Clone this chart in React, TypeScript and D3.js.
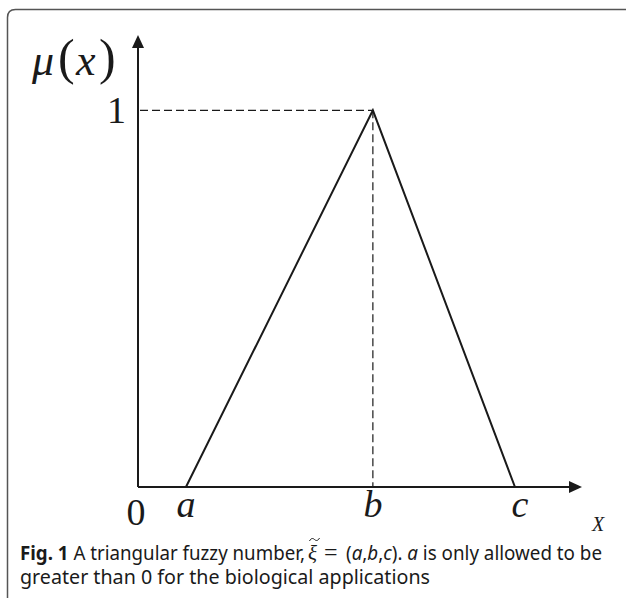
import React from "react";
import * as d3 from "d3";

// Triangular fuzzy number parameters (x-domain units) and membership values
const pointNames = ["a", "b", "c"];
const pointX = [1.08, 5.29, 8.49];
const pointMu = [0, 1, 0];
const xMax = 10;
const yMax = 1.2;
const yTickLabels = ["1"];
const yTickValues = [1];

const W = 626;
const H = 598;

export default function App() {
  const x = d3.scaleLinear().domain([0, xMax]).range([138, 582]);
  const y = d3.scaleLinear().domain([0, yMax]).range([487, 35]);
  const line = d3
    .line<number>()
    .x((_, i) => x(pointX[i]))
    .y((d) => y(d));
  const peakX = x(pointX[1]);
  const peakY = y(pointMu[1]);
  const serif = "'Liberation Serif', 'Times New Roman', serif";
  const sans = "'Noto Sans', 'Open Sans', sans-serif";
  const ink = "#1a1a1a";
  const capFs = 19;

  return (
    <svg
      width={W}
      height={H}
      viewBox={`0 0 ${W} ${H}`}
      style={{ position: "absolute", left: 0, top: 0, background: "#fff" }}
    >
      {/* frame */}
      <path
        d={`M7.5,${H} L7.5,17.5 Q7.5,9.5 15.5,9.5 L${W},9.5`}
        fill="none"
        stroke="#555"
        strokeWidth={1.5}
      />
      {/* dashed guides */}
      <line
        x1={x(0) + 2}
        x2={peakX}
        y1={peakY}
        y2={peakY}
        stroke={ink}
        strokeWidth={1.2}
        strokeDasharray="8,4"
      />
      <line
        x1={peakX}
        x2={peakX}
        y1={peakY}
        y2={y(0)}
        stroke={ink}
        strokeWidth={1.2}
        strokeDasharray="8,4"
      />
      {/* axes */}
      <line x1={x(0)} x2={x(xMax) - 10} y1={y(0)} y2={y(0)} stroke={ink} strokeWidth={2} />
      <line x1={x(0)} x2={x(0)} y1={y(0)} y2={y(yMax) + 10} stroke={ink} strokeWidth={2} />
      <path
        d={`M${x(xMax)},${y(0)} L${x(xMax) - 13},${y(0) - 6} L${x(xMax) - 13},${y(0) + 6} Z`}
        fill={ink}
      />
      <path
        d={`M${x(0)},${y(yMax)} L${x(0) - 6},${y(yMax) + 13} L${x(0) + 6},${y(yMax) + 13} Z`}
        fill={ink}
      />
      {/* triangle */}
      <path d={line(pointMu) || ""} fill="none" stroke={ink} strokeWidth={2} strokeLinejoin="miter" />
      {/* y-axis title μ(x) */}
      <g fontFamily={serif} fill={ink}>
        <text x={32} y={75} fontSize={44} fontStyle="italic">μ</text>
        <text x={58} y={74} fontSize={50}>(</text>
        <text x={76} y={75} fontSize={44} fontStyle="italic">x</text>
        <text x={99} y={74} fontSize={50}>)</text>
      </g>
      {yTickValues.map((v, i) => (
        <text
          key={i}
          x={x(0) - 12}
          y={y(v) + 13}
          textAnchor="end"
          fontFamily={serif}
          fontSize={38}
          fill={ink}
        >
          {yTickLabels[i]}
        </text>
      ))}
      <text x={x(0) - 2} y={y(0) + 38} textAnchor="middle" fontFamily={serif} fontSize={38} fill={ink}>
        0
      </text>
      {pointNames.map((n, i) => (
        <text
          key={n}
          x={x(pointX[i]) + (i === 2 ? 5 : 0)}
          y={y(0) + 30}
          textAnchor="middle"
          fontFamily={serif}
          fontStyle="italic"
          fontSize={38}
          fill={ink}
        >
          {n}
        </text>
      ))}
      <text x={598} y={531} textAnchor="middle" fontFamily={serif} fontStyle="italic" fontSize={20} fill={ink}>
        X
      </text>
      {/* caption */}
      <g fill={ink}>
        <text
          x={20}
          y={560}
          fontFamily={sans}
          fontSize={capFs}
          textLength={285}
          lengthAdjust="spacingAndGlyphs"
        >
          <tspan fontWeight="bold">Fig. 1</tspan>
          <tspan> A triangular fuzzy number,</tspan>
        </text>
        <text x={308} y={560} fontFamily={serif} fontStyle="italic" fontSize={21}>
          ξ
        </text>
        <path
          d="M309.5,541 C311,538 313,538 314.5,539.5 C316,541 318,541 319.5,538"
          fill="none"
          stroke={ink}
          strokeWidth={1}
        />
        <text x={324} y={560} fontFamily={serif} fontSize={24}>
          =
        </text>
        <text
          x={346}
          y={560}
          fontFamily={sans}
          fontSize={capFs}
          textLength={256}
          lengthAdjust="spacingAndGlyphs"
        >
          <tspan>(</tspan>
          <tspan fontStyle="italic">a</tspan>
          <tspan>,</tspan>
          <tspan fontStyle="italic">b</tspan>
          <tspan>,</tspan>
          <tspan fontStyle="italic">c</tspan>
          <tspan>). </tspan>
          <tspan fontStyle="italic">a</tspan>
          <tspan> is only allowed to be</tspan>
        </text>
        <text
          x={20}
          y={584}
          fontFamily={sans}
          fontSize={capFs}
          textLength={410}
          lengthAdjust="spacingAndGlyphs"
        >
          greater than 0 for the biological applications
        </text>
      </g>
    </svg>
  );
}
